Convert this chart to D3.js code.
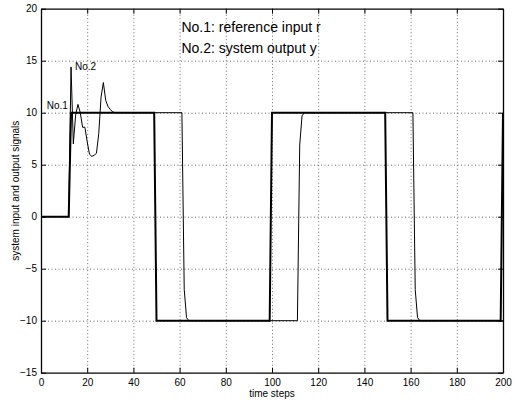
<!DOCTYPE html>
<html lang="en">
<head>
<meta charset="UTF-8">
<title>system input and output signals</title>
<script src="https://cdn.jsdelivr.net/npm/d3@7"></script>
<style>
    body { margin: 0; background: white; }
    svg { display: block; background: white; }
    text { font-family: "Liberation Sans", Arial, sans-serif; fill: black; }
</style>
</head>
<body>
<svg id="chart" width="513" height="404"></svg>
<script>
// reference input r (breakpoints, time step -> value)
const refT = [0, 12, 13, 49, 50, 99, 100, 149, 150, 199, 200];
const refV = [0, 0, 10, 10, -10, -10, 10, 10, -10, -10, 10];

// system output y
const outT = [0, 12, 13, 14, 15, 16, 17, 18, 19, 20, 21, 22, 23, 24, 25, 26, 27, 28, 29, 30, 31, 32,
              61, 62, 63, 64, 111, 112, 113, 114, 161, 162, 163, 164, 200];
const outV = [0, 0, 14.4, 7.0, 9.8, 10.8, 10.0, 8.6, 8.6, 7.2, 6.0, 5.8, 5.9, 6.1, 8.0, 11.5, 12.9, 11.2, 10.6, 10.3, 10.1, 10,
              10, -7.0, -9.7, -10, -10, 6.9, 9.7, 10, 10, -7.0, -9.7, -10, -10];

const xTicks = [0, 20, 40, 60, 80, 100, 120, 140, 160, 180, 200];
const yTicks = [-15, -10, -5, 0, 5, 10, 15, 20];

const svg = d3.select('#chart');
const margin = {left: 41, right: 10, top: 8.7, bottom: 31.3};
const W = 513 - margin.left - margin.right;
const H = 404 - margin.top - margin.bottom;

const x = d3.scaleLinear().domain([0, 200]).range([0, W]);
const y = d3.scaleLinear().domain([-15, 20]).range([H, 0]);

const g = svg.append('g').attr('transform', `translate(${margin.left},${margin.top})`);

// dotted grid
g.append('g')
    .attr('transform', `translate(0,${H})`)
    .call(d3.axisBottom(x).tickValues(xTicks.slice(1, -1)).tickSize(-H).tickFormat(''))
    .call(a => a.select('.domain').remove())
    .selectAll('line')
    .attr('stroke', '#444').attr('stroke-width', 0.8).attr('stroke-dasharray', '1,2.5');
g.append('g')
    .call(d3.axisLeft(y).tickValues(yTicks.slice(1, -1)).tickSize(-W).tickFormat(''))
    .call(a => a.select('.domain').remove())
    .selectAll('line')
    .attr('stroke', '#444').attr('stroke-width', 0.8).attr('stroke-dasharray', '1,2.5');

// signals
const line = d3.line().x(d => x(d[0])).y(d => y(d[1]));
g.append('path')
    .datum(d3.zip(outT, outV))
    .attr('fill', 'none').attr('stroke', 'black').attr('stroke-width', 1)
    .attr('d', line);
g.append('path')
    .datum(d3.zip(refT, refV))
    .attr('fill', 'none').attr('stroke', 'black').attr('stroke-width', 2)
    .attr('d', line);

// axes with inward ticks on all four sides
const axBottom = g.append('g').attr('transform', `translate(0,${H})`)
    .call(d3.axisBottom(x).tickValues(xTicks).tickSize(-5).tickPadding(6).tickSizeOuter(0));
const axLeft = g.append('g')
    .call(d3.axisLeft(y).tickValues(yTicks).tickSize(-5).tickPadding(4).tickSizeOuter(0));
const axTop = g.append('g')
    .call(d3.axisTop(x).tickValues(xTicks).tickSize(-5).tickFormat('').tickSizeOuter(0));
const axRight = g.append('g').attr('transform', `translate(${W},0)`)
    .call(d3.axisRight(y).tickValues(yTicks).tickSize(-5).tickFormat('').tickSizeOuter(0));

[axBottom, axLeft, axTop, axRight].forEach(a => {
    a.select('.domain').attr('stroke', 'black').attr('stroke-width', 1.3);
    a.selectAll('line').attr('stroke', 'black').attr('stroke-width', 1);
    a.selectAll('text').attr('font-size', 10)
        .style('font-family', '"Liberation Sans", Arial, sans-serif');
});

// axis labels
svg.append('text')
    .attr('x', margin.left + W / 2).attr('y', 397)
    .attr('text-anchor', 'middle').attr('font-size', 10)
    .text('time steps');
svg.append('text')
    .attr('transform', `translate(19,${margin.top + H / 2}) rotate(-90)`)
    .attr('text-anchor', 'middle').attr('font-size', 10)
    .text('system input and output signals');

// annotations
g.append('text').attr('x', x(60.8)).attr('y', y(17.75))
    .attr('font-size', 14).text('No.1: reference input r');
g.append('text').attr('x', x(60.8)).attr('y', y(15.7))
    .attr('font-size', 14).text('No.2: system output y');
g.append('text').attr('x', x(14.7)).attr('y', y(14.1))
    .attr('font-size', 10).text('No.2');
g.append('text').attr('x', x(2.5)).attr('y', y(10.4))
    .attr('font-size', 10).text('No.1');
</script>
</body>
</html>
